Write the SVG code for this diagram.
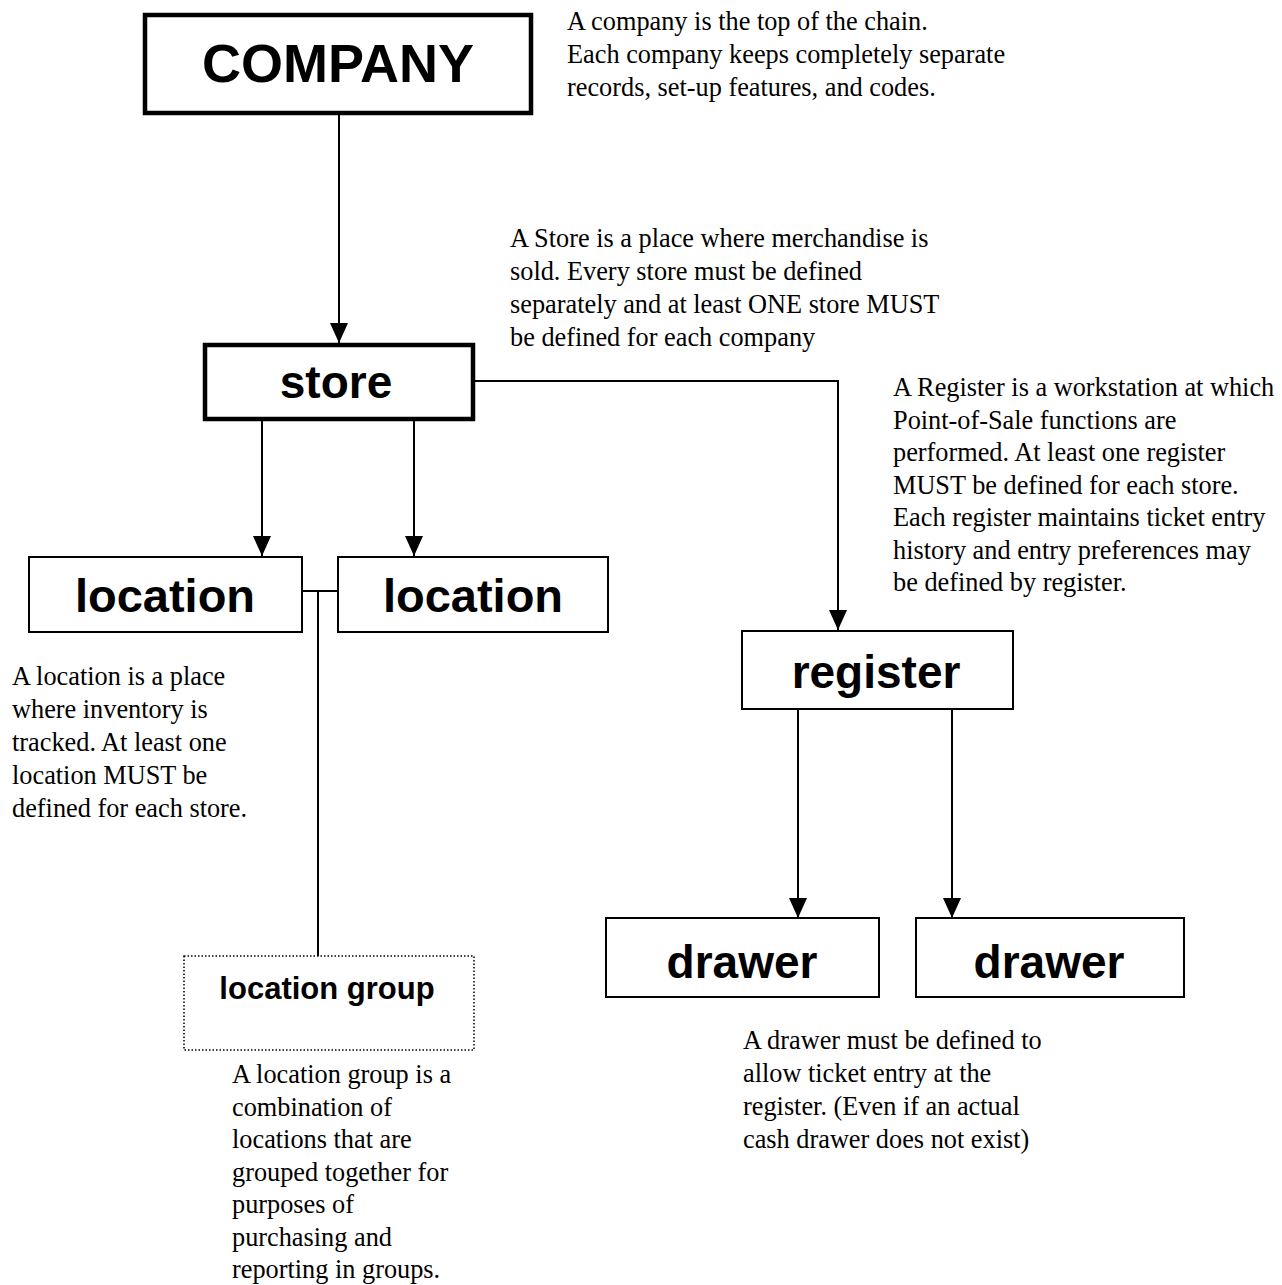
<svg xmlns="http://www.w3.org/2000/svg" width="1282" height="1285" viewBox="0 0 1282 1285">
<style>
.box{fill:#fff;stroke:#000;stroke-width:2}
.thick{stroke-width:4.5}
.dot{fill:#fff;stroke:#000;stroke-width:1.5;stroke-dasharray:1.5 2}
.lbl{font-family:"Liberation Sans",Arial,sans-serif;font-weight:bold;text-anchor:middle;fill:#000}
.note{font-family:"Liberation Serif","Times New Roman",serif;font-size:26.3px;fill:#000}
.ln{fill:none;stroke:#000;stroke-width:2}
</style>
<defs>
<marker id="arr" markerWidth="20" markerHeight="18" refX="20" refY="9" orient="auto" markerUnits="userSpaceOnUse" viewBox="0 0 20 18">
<path d="M0,0 L20,9 L0,18 Z" fill="#000"/>
</marker>
</defs>
<rect width="1282" height="1285" fill="#fff"/>
<g id="connectors">
<line class="ln" x1="339" y1="115" x2="339" y2="343" marker-end="url(#arr)"/>
<polyline class="ln" points="475,381 838,381 838,630" marker-end="url(#arr)"/>
<line class="ln" x1="262" y1="421" x2="262" y2="556" marker-end="url(#arr)"/>
<line class="ln" x1="414" y1="421" x2="414" y2="556" marker-end="url(#arr)"/>
<line class="ln" x1="302" y1="591" x2="338" y2="591"/>
<line class="ln" x1="318" y1="591" x2="318" y2="956"/>
<line class="ln" x1="798" y1="709" x2="798" y2="918" marker-end="url(#arr)"/>
<line class="ln" x1="952" y1="709" x2="952" y2="918" marker-end="url(#arr)"/>
</g>
<g id="company">
<rect class="box thick" x="145" y="15" width="386" height="98"/>
<text class="lbl" x="338" y="82" font-size="54">COMPANY</text>
</g>
<g id="store">
<rect class="box thick" x="205" y="345" width="268" height="74"/>
<text class="lbl" x="336" y="398" font-size="46">store</text>
</g>
<g id="location1">
<rect class="box" x="29" y="557" width="273" height="75"/>
<text class="lbl" x="165" y="612" font-size="47">location</text>
</g>
<g id="location2">
<rect class="box" x="338" y="557" width="270" height="75"/>
<text class="lbl" x="473" y="612" font-size="47">location</text>
</g>
<g id="location-group">
<rect class="dot" x="184" y="956" width="290" height="94"/>
<text class="lbl" x="327" y="999" font-size="31">location group</text>
</g>
<g id="register">
<rect class="box" x="742" y="631" width="271" height="78"/>
<text class="lbl" x="876" y="688" font-size="46">register</text>
</g>
<g id="drawer1">
<rect class="box" x="606" y="918" width="273" height="79"/>
<text class="lbl" x="742" y="978" font-size="46">drawer</text>
</g>
<g id="drawer2">
<rect class="box" x="916" y="918" width="268" height="79"/>
<text class="lbl" x="1049" y="978" font-size="46">drawer</text>
</g>
<g id="notes">
<text class="note" x="567" y="30">A company is the top of the chain.</text>
<text class="note" x="567" y="63">Each company keeps completely separate</text>
<text class="note" x="567" y="96">records, set-up features, and codes.</text>
<text class="note" x="510" y="247">A Store is a place where merchandise is</text>
<text class="note" x="510" y="280">sold. Every store must be defined</text>
<text class="note" x="510" y="313">separately and at least ONE store MUST</text>
<text class="note" x="510" y="346">be defined for each company</text>
<text class="note" x="893" y="396">A Register is a workstation at which</text>
<text class="note" x="893" y="428.5">Point-of-Sale functions are</text>
<text class="note" x="893" y="461">performed. At least one register</text>
<text class="note" x="893" y="493.5">MUST be defined for each store.</text>
<text class="note" x="893" y="526">Each register maintains ticket entry</text>
<text class="note" x="893" y="558.5">history and entry preferences may</text>
<text class="note" x="893" y="591">be defined by register.</text>
<text class="note" x="12" y="685">A location is a place</text>
<text class="note" x="12" y="718">where inventory is</text>
<text class="note" x="12" y="751">tracked. At least one</text>
<text class="note" x="12" y="784">location MUST be</text>
<text class="note" x="12" y="817">defined for each store.</text>
<text class="note" x="232" y="1083">A location group is a</text>
<text class="note" x="232" y="1115.5">combination of</text>
<text class="note" x="232" y="1148">locations that are</text>
<text class="note" x="232" y="1180.5">grouped together for</text>
<text class="note" x="232" y="1213">purposes of</text>
<text class="note" x="232" y="1245.5">purchasing and</text>
<text class="note" x="232" y="1278">reporting in groups.</text>
<text class="note" x="743" y="1049">A drawer must be defined to</text>
<text class="note" x="743" y="1082">allow ticket entry at the</text>
<text class="note" x="743" y="1115">register. (Even if an actual</text>
<text class="note" x="743" y="1148">cash drawer does not exist)</text>
</g>
</svg>
